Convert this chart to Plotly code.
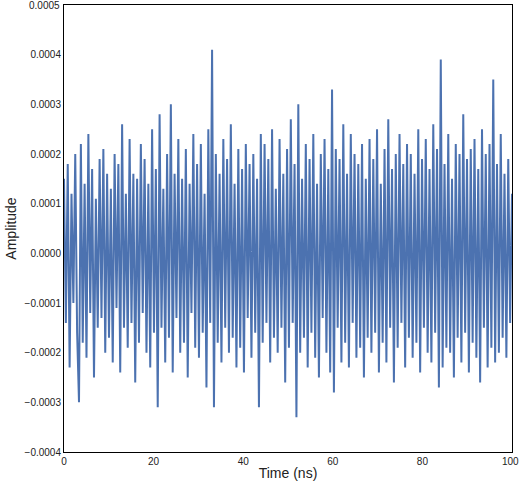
import plotly.graph_objects as go

# amplitude values in units of 1e-4, hand-estimated
amp_e4 = [
1.5,-1.4,1.8,-2.3,1.2,-1.0,2.0,-1.6,-3.0,2.2,-1.8,1.4,-2.1,2.4,-1.2,1.7,-2.5,1.1,-1.5,1.9,
-1.3,2.1,-2.0,1.6,-1.7,1.3,-2.2,2.0,-1.1,1.8,-2.4,2.6,-1.5,1.2,-1.9,2.3,-1.4,1.6,-2.6,1.5,
-1.8,2.2,-1.2,1.9,-2.0,1.4,-2.3,2.5,-1.6,1.7,-3.1,2.8,-1.5,1.3,-2.2,2.0,-1.7,3.0,-2.4,1.6,
-1.3,2.3,-2.0,1.5,-1.8,2.1,-2.5,1.4,-1.2,2.4,-1.9,1.8,-2.1,2.2,-1.6,1.2,-2.7,2.5,-1.4,4.1,
-3.1,2.0,-1.8,1.6,-2.2,2.3,-1.5,1.9,-2.0,2.6,-1.7,1.4,-2.3,2.1,-1.9,1.7,-2.4,2.2,-1.3,1.8,
-2.1,2.0,-1.6,1.5,-3.1,2.4,-1.8,2.2,-1.4,1.9,-2.2,2.5,-1.7,1.3,-2.0,2.3,-1.5,1.6,-2.6,2.1,
-1.9,2.7,-1.4,1.8,-3.3,3.0,-2.0,1.5,-1.7,2.2,-2.3,1.9,-1.6,2.4,-2.1,1.4,-2.5,2.0,-1.3,2.3,
-2.0,1.7,-2.4,3.3,-2.8,2.1,-1.5,1.9,-2.2,2.6,-1.8,1.6,-2.3,2.4,-1.4,2.0,-2.1,1.8,-1.9,2.2,
-2.5,1.5,-1.7,2.3,-2.0,1.9,-1.6,2.5,-2.4,1.4,-1.8,2.1,-2.2,2.7,-1.5,1.7,-2.6,2.0,-1.9,2.4,
-1.4,1.8,-2.3,2.2,-1.7,2.0,-2.1,1.6,-1.8,2.5,-2.4,1.9,-1.5,2.3,-2.0,1.7,-2.2,2.6,-1.6,2.1,
-2.7,3.9,-2.3,1.8,-1.9,2.4,-2.0,1.5,-2.5,2.2,-1.7,2.0,-2.2,2.8,-1.6,1.9,-2.4,2.1,-1.8,2.3,
-2.1,1.7,-2.6,2.5,-1.5,2.0,-2.3,2.2,-1.9,3.5,-2.2,1.8,-2.0,2.4,-1.7,1.6,-2.1,1.9,-1.4,1.2,
]
time_ns = [i * 100.0 / (len(amp_e4) - 1) for i in range(len(amp_e4))]
amplitude = [v * 1e-4 for v in amp_e4]
x_ticks = [0, 20, 40, 60, 80, 100]
y_ticks = [-0.0004, -0.0003, -0.0002, -0.0001, 0, 0.0001, 0.0002, 0.0003, 0.0004, 0.0005]

tick_font = dict(family="Liberation Sans", size=10, color="#222")
fig = go.Figure(go.Scatter(x=time_ns, y=amplitude, mode="lines",
                           line=dict(color="#4c72b0", width=2)))
axis_common = dict(showgrid=False, zeroline=False, showline=True, mirror=True,
                   linecolor="black", linewidth=1, ticks="", automargin=False,
                   autorange=False, tickfont=tick_font)
fig.update_layout(
    width=519, height=489, margin=dict(l=64, r=7, t=5, b=37),
    plot_bgcolor="white", paper_bgcolor="white", showlegend=False,
    xaxis=dict(range=[0, 100], tickvals=x_ticks[:-1],
               title=dict(text="Time (ns)", font=dict(family="Liberation Sans", size=14, color="#222"), standoff=2),
               **axis_common),
    yaxis=dict(range=[-0.0004, 0.0005], tickvals=y_ticks[:-1], tickformat=".4f",
               title=dict(text="Amplitude", font=dict(family="Liberation Sans", size=14, color="#222"), standoff=4),
               **axis_common),
)
# edge labels that plotly would drop
fig.add_annotation(x=x_ticks[-1], y=0, xref="x", yref="paper", text=str(x_ticks[-1]),
                   showarrow=False, yanchor="top", yshift=-2, xshift=-2, font=tick_font)
fig.add_annotation(x=0, y=y_ticks[-1], xref="paper", yref="y", text=f"{y_ticks[-1]:.4f}",
                   showarrow=False, xanchor="right", xshift=-2, font=tick_font)
fig.write_html("out.html", config={"responsive": False, "displayModeBar": False})
with open("out.html", encoding="utf-8") as f:
    html = f.read()
html = html.replace("<body>", '<body style="margin:0;overflow:hidden">', 1)
with open("out.html", "w", encoding="utf-8") as f:
    f.write(html)
